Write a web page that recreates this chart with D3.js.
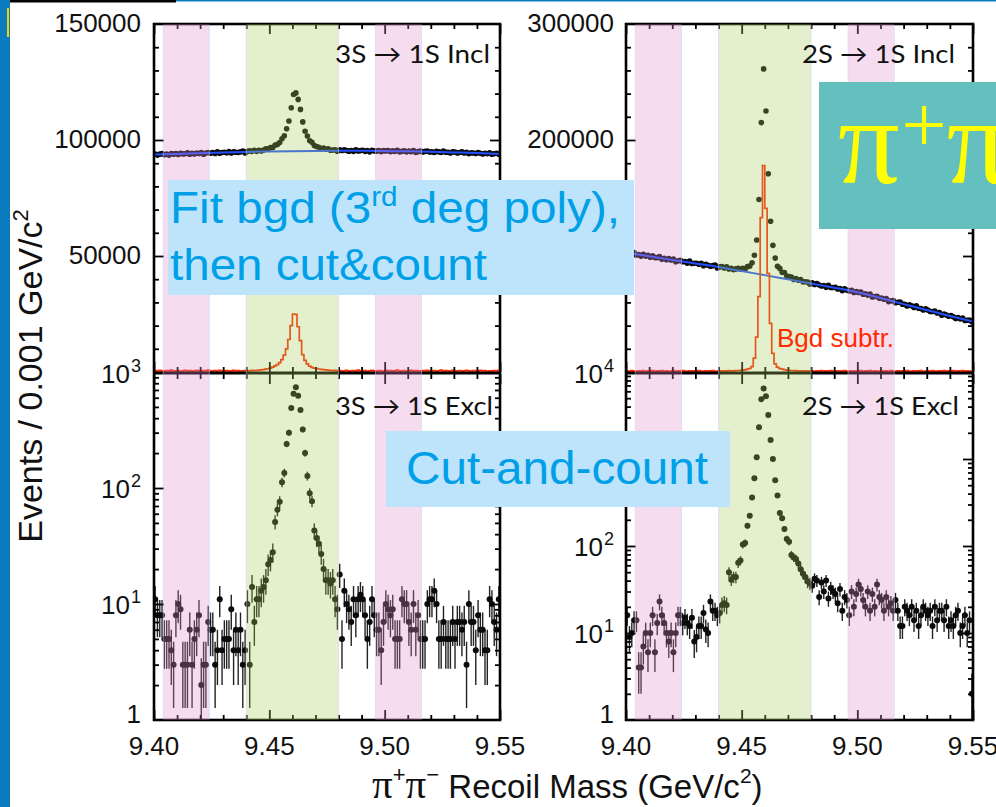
<!DOCTYPE html>
<html><head><meta charset="utf-8">
<script src="https://cdn.jsdelivr.net/npm/d3@7"></script>
<style>body{margin:0;background:#fff}svg{display:block}</style>
</head><body>
<svg id="c" width="996" height="807"></svg>
<script>
// ---------- data ----------
const binStart = 9.400, binWidth = 0.001, nBins = 150;
const xMajor = [9.40, 9.45, 9.50, 9.55];
const xMajorLabels = ["9.40", "9.45", "9.50", "9.55"];
const fitKnotX = [9.40,9.41,9.42,9.43,9.44,9.45,9.46,9.47,9.48,9.49,9.50,9.51,9.52,9.53,9.54,9.55];

const incl3S = [93900,93500,93900,94200,93600,93900,93500,94200,93900,94200,
 93800,94300,94000,94100,94500,93900,94300,94000,94400,94200,
 94600,93900,94400,94600,94300,94600,94200,94900,94300,94600,
 94700,94500,95000,94400,94900,94700,94600,94900,95200,94400,
 95100,95300,95100,95600,95100,95600,95300,95700,96200,96100,
 96700,96800,97800,98100,98900,100500,101800,104800,108200,113900,
 119600,120300,117500,113200,107800,103800,101700,99700,99000,97600,
 97200,96900,96200,96500,96000,96200,95600,95700,95800,95200,
 95800,95500,95800,95500,95200,95500,95100,95800,95300,95400,
 95600,95100,95400,94900,95600,95300,95200,95500,95000,95400,
 95300,95500,95000,95300,95100,95600,94900,95100,95300,94900,
 95200,95000,95400,94600,95000,95200,94800,95100,95200,94800,
 94900,94600,95100,94900,94600,95200,94700,94700,94400,94900,
 94800,94400,94600,94900,94400,94700,94100,94500,94400,94200,
 94600,94300,94000,94300,94100,94500,93900,94100,94300,93900];
const fit3S = [93700,94000,94300,94600,94850,95050,95200,95300,95350,95350,95250,95100,94900,94650,94350,94000];
const sub3S = [600,400,700,500,300,600,500,800,400,500,
 600,300,500,700,400,600,500,300,700,500,
 400,600,500,800,300,500,600,400,700,500,
 300,600,500,400,700,500,600,300,500,600,
 600,500,700,600,700,800,900,1000,1200,1400,
 1700,2100,2600,3200,4000,5300,7300,10000,14000,20000,
 25000,24800,19500,13500,7500,5000,3500,2500,2000,1700,
 1500,1300,1100,1000,900,800,700,600,700,500,
 600,400,500,700,300,500,600,400,800,500,
 400,600,300,500,700,500,400,600,500,300,
 700,500,600,400,500,800,400,500,600,300,
 500,700,400,600,500,300,600,500,700,400,
 500,600,300,500,800,400,600,500,400,700,
 300,500,600,400,500,700,500,300,600,500,
 400,700,500,600,300,500,400,600,500,700];

const incl2S = [103400,101600,102500,103000,100900,101200,99700,101400,99900,100500,
 98900,100100,98600,98600,99500,97100,98000,96800,97700,96500,
 97400,95000,95900,96200,95000,95300,93800,95600,93500,93800,
 93800,92900,93800,91700,92900,92000,91100,91700,92300,89600,
 90600,90900,89700,90600,88900,89500,88200,88900,89400,88600,
 89300,88800,90800,91300,94100,100700,113800,148700,215000,261300,
 225000,170900,130000,109200,98200,91100,89300,86000,85800,82800,
 82300,81800,79800,80600,79100,79700,77700,77800,77600,75700,
 77000,75500,76300,75000,74100,74600,73100,74800,72900,72900,
 73100,71500,72000,70100,71800,70600,69900,70400,68500,69300,
 68600,69000,67000,67400,66300,67300,64700,65100,65200,63500,
 63800,62700,63400,60700,61400,61500,59800,60100,60200,58500,
 58300,56900,57900,57100,55700,57000,55000,54800,53400,54400,
 53500,52100,52200,52600,50900,51200,48900,49900,49100,48000,
 48700,47600,46200,46900,45800,46500,44500,44600,44700,43300];
const fit2S = [103000,99700,96600,93600,90600,87000,83500,79900,76300,72700,68800,63800,58500,53500,48300,43400];
const sub2S = [900,600,1200,800,500,1000,700,1300,600,900,
 800,1100,500,900,700,1200,600,1000,800,500,
 1100,700,900,600,1300,800,500,1000,700,900,
 600,1200,800,500,1000,900,700,1100,600,800,
 900,700,1000,800,1100,900,1000,1200,1300,1400,
 1600,1900,2500,3000,4600,12000,30000,65000,133000,178000,
 141000,85000,42000,16000,7000,4200,3000,2400,2000,1700,
 1500,1300,1200,1100,1000,900,1000,800,900,700,
 1000,600,900,800,1200,500,900,700,1100,800,
 600,1000,900,500,1200,800,700,1000,600,900,
 800,1100,500,900,700,1200,600,1000,800,500,
 1100,700,900,600,1300,800,500,1000,700,900,
 600,1200,800,500,1000,900,700,1100,600,800,
 900,600,1200,800,500,1000,700,1300,600,900,
 800,1100,500,900,700,1200,600,1000,800,500];

const excl3S = [11,8,8,8,5,5,5,4,3,8,
 10,9,3,3,3,6,3,5,6,8,
 2,3,3,7,6,6,3,4,11,4,
 5,5,5,9,4,6,4,6,3,4,
 10,3,14,7,11,11,13,14,16,22,
 24,28,51,65,76,112,135,240,300,490,
 650,740,625,470,320,200,127,90,77,43,
 37,33,27,20,16,16,15,16,11,9,
 18,5,13,10,9,7,11,8,11,12,
 11,8,5,7,11,8,6,6,4,7,
 10,9,8,9,5,5,5,11,10,10,
 7,6,10,6,8,5,5,5,10,11,
 11,13,10,5,5,7,5,5,5,7,
 5,7,7,6,7,3,10,7,7,4,
 8,6,6,4,4,11,10,7,6,11];
const excl2S = [16,9,10,14,14,4,4,7,10,6,
 10,16,6,13,23,16,13,10,8,10,
 6,10,16,16,13,15,13,12,15,8,
 9,12,12,17,11,10,23,18,18,16,
 17,21,22,21,50,41,44,44,64,68,
 104,108,171,223,360,600,1045,2310,4870,6470,
 5270,3200,1650,1000,570,380,240,209,157,120,
 112,79,74,71,63,54,48,44,39,37,
 35,42,40,26,38,30,40,25,33,30,
 28,22,32,18,26,24,16,30,20,28,
 36,32,24,20,30,18,28,20,36,26,
 24,18,26,20,22,18,24,18,12,12,
 20,18,16,20,14,18,12,16,20,18,
 16,18,12,20,14,18,18,14,20,12,
 14,12,16,18,10,12,16,10,14,2];

const bandRanges = [[9.404, 9.424], [9.440, 9.480], [9.496, 9.516]];
const bandKinds = ["side", "signal", "side"];

// ---------- layout ----------
const svg = d3.select("#c");
const yTop = 24, yMid = 372, yBot = 720;
const binCenters = d3.range(nBins).map(i => binStart + binWidth * (i + 0.5));
const xMinor = d3.range(16).map(i => 9.40 + 0.01 * i);
const SANS = "'Liberation Sans', Arial, Helvetica, sans-serif";
const SERIF = "'Liberation Serif', 'Times New Roman', serif";

// (labels that the reference shows; those hidden under the note boxes are omitted)
const columns = [
  {x0: 154, x1: 500, incl: incl3S, fit: fit3S, sub: sub3S, excl: excl3S,
   linMax: 150000, linMajor: [50000, 100000, 150000], linStep: 10000,
   linLabels: [[150000, "150000"], [100000, "100000"], [50000, "50000"]],
   midLabel: ["10", "3"], logMax: 1000,
   logLabels: [[100, "10", "2"], [10, "10", "1"], [1, "1", null]],
   tInc: "3S \u2192 1S Incl", tExc: "3S \u2192 1S Excl", tIncLen: 155, tExcLen: 158, tX: 335, labGap: 13, id: "L"},
  {x0: 626, x1: 973, incl: incl2S, fit: fit2S, sub: sub2S, excl: excl2S,
   linMax: 300000, linMajor: [100000, 200000, 300000], linStep: 20000,
   linLabels: [[300000, "300000"], [200000, "200000"]],
   midLabel: ["10", "4"], logMax: 10000,
   logLabels: [[100, "10", "2"], [10, "10", "1"], [1, "1", null]],
   tInc: "2S \u2192 1S Incl", tExc: "2S \u2192 1S Excl", tIncLen: 153, tExcLen: 157, tX: 802, labGap: 12, id: "R"}
];

const defs = svg.append("defs");

function ticks(g, axisFn, scale, values, size, tr) {
  g.append("g").attr("transform", tr)
    .call(axisFn(scale).tickValues(values).tickSize(size).tickFormat(""))
    .call(s => { s.select(".domain").remove();
      s.selectAll("line").attr("stroke", "#000").attr("stroke-width", 1.8); });
}

columns.forEach(c => {
  const x = d3.scaleLinear().domain([9.40, 9.55]).range([c.x0, c.x1]);
  const yL = d3.scaleLinear().domain([0, c.linMax]).range([yMid, yTop]);
  const yG = d3.scaleLog().domain([1, c.logMax]).range([yBot, yMid]);
  const g = svg.append("g");

  defs.append("clipPath").attr("id", "top" + c.id).append("rect")
    .attr("x", c.x0).attr("y", yTop).attr("width", c.x1 - c.x0).attr("height", yMid - yTop);
  defs.append("clipPath").attr("id", "bot" + c.id).append("rect")
    .attr("x", c.x0).attr("y", yMid).attr("width", c.x1 - c.x0).attr("height", yBot - yMid);

  // top panel: inclusive data
  const gt = g.append("g").attr("clip-path", `url(#top${c.id})`);
  gt.selectAll("circle").data(c.incl).join("circle")
    .attr("cx", (d, i) => x(binCenters[i])).attr("cy", d => yL(d)).attr("r", 2.8).attr("fill", "#0b0b0b");
  gt.append("path").datum(c.fit)
    .attr("d", d3.line().x((d, i) => x(fitKnotX[i])).y(d => yL(d)).curve(d3.curveMonotoneX))
    .attr("fill", "none").attr("stroke", "#2250ff").attr("stroke-width", 2);
  gt.append("path").datum(c.sub)
    .attr("d", d3.line().x((d, i) => x(binCenters[i])).y(d => yL(d)).curve(d3.curveStep))
    .attr("fill", "none").attr("stroke", "#ff2600").attr("stroke-width", 1.7);

  // bottom panel: exclusive data
  const gb = g.append("g").attr("clip-path", `url(#bot${c.id})`);
  gb.selectAll("line.err").data(c.excl).join("line").attr("class", "err")
    .attr("x1", (d, i) => x(binCenters[i])).attr("x2", (d, i) => x(binCenters[i]))
    .attr("y1", d => yG(Math.max(1, d - Math.sqrt(d)))).attr("y2", d => yG(d + Math.sqrt(d)))
    .attr("stroke", "#222").attr("stroke-width", 1.4);
  gb.selectAll("circle").data(c.excl).join("circle")
    .attr("cx", (d, i) => x(binCenters[i])).attr("cy", d => yG(d)).attr("r", 3).attr("fill", "#0b0b0b");

  // frame
  g.append("rect").attr("x", c.x0).attr("y", yTop).attr("width", c.x1 - c.x0).attr("height", yBot - yTop)
    .attr("fill", "none").attr("stroke", "#000").attr("stroke-width", 2.6);
  g.append("line").attr("x1", c.x0).attr("x2", c.x1).attr("y1", yMid + 1).attr("y2", yMid + 1)
    .attr("stroke", "#000").attr("stroke-width", 3);

  // x ticks
  const xMin = xMinor.filter(v => !xMajor.some(m => Math.abs(m - v) < 1e-6));
  [[d3.axisTop, yTop], [d3.axisBottom, yMid], [d3.axisTop, yMid + 2], [d3.axisBottom, yBot]].forEach(([fn, yy]) => {
    ticks(g, fn, x, xMin, -5, `translate(0,${yy})`);
    ticks(g, fn, x, xMajor, -10, `translate(0,${yy})`);
  });
  // y ticks (linear)
  const linMinor = d3.range(0, c.linMax + 1, c.linStep).filter(v => !c.linMajor.includes(v) && v > 0);
  [[d3.axisLeft, c.x0], [d3.axisRight, c.x1]].forEach(([fn, xx]) => {
    ticks(g, fn, yL, linMinor, -5, `translate(${xx},0)`);
    ticks(g, fn, yL, c.linMajor.filter(v => v < c.linMax), -10, `translate(${xx},0)`);
  });
  // y ticks (log)
  const decs = d3.range(0, Math.round(Math.log10(c.logMax)));
  const logMajor = decs.map(k => Math.pow(10, k)).filter(v => v > 1);
  const logMinor = [];
  decs.forEach(k => { for (let m = 2; m <= 9; m++) logMinor.push(m * Math.pow(10, k)); });
  [[d3.axisLeft, c.x0], [d3.axisRight, c.x1]].forEach(([fn, xx]) => {
    ticks(g, fn, yG, logMinor, -5, `translate(${xx},0)`);
    ticks(g, fn, yG, logMajor, -10, `translate(${xx},0)`);
  });

  // bands (semi-transparent, over data and frame)
  bandRanges.forEach((b, k) => {
    g.append("rect").attr("x", x(b[0])).attr("y", yTop).attr("width", x(b[1]) - x(b[0])).attr("height", yBot - yTop)
      .attr("fill", bandKinds[k] === "signal" ? "rgb(165,205,88)" : "rgb(222,138,202)").attr("opacity", 0.3);
    [b[0], b[1]].forEach(v => g.append("line").attr("x1", x(v)).attr("x2", x(v)).attr("y1", yTop + 1).attr("y2", yBot - 1)
      .attr("stroke", "#c8d4fa").attr("stroke-width", 1).attr("opacity", 0.5));
  });

  // tick labels
  const lx = c.x0 - c.labGap;
  c.linLabels.forEach(([v, s]) => {
    g.append("text").attr("x", lx).attr("y", yL(v) + 8).attr("text-anchor", "end")
      .attr("font-family", SANS).attr("font-size", 26).attr("fill", "#111").text(s);
  });
  const sup = (base, e, yy) => {
    const tx = g.append("text").attr("x", lx).attr("y", yy).attr("text-anchor", "end")
      .attr("font-family", SANS).attr("font-size", 26).attr("fill", "#111");
    tx.append("tspan").text(base);
    if (e) tx.append("tspan").attr("dx", 1).attr("dy", -11).attr("font-size", 18).text(e);
  };
  sup(c.midLabel[0], c.midLabel[1], yMid + 11);
  c.logLabels.forEach(([v, b, e]) => sup(b, e, v === 1 ? yG(v) + 3 : yG(v) + 10));
  xMajor.forEach((v, i) => {
    g.append("text").attr("x", x(v)).attr("y", 755).attr("text-anchor", "middle")
      .attr("font-family", SANS).attr("font-size", 26).attr("fill", "#111").text(xMajorLabels[i]);
  });

  // panel titles
  [[c.tInc, 63, c.tIncLen], [c.tExc, 415, c.tExcLen]].forEach(([t, yy, len]) => {
    g.append("text").attr("x", c.tX).attr("y", yy).attr("font-family", "Lato, 'Open Sans', 'DejaVu Sans', sans-serif")
      .attr("font-size", 25).attr("fill", "#111").attr("textLength", len).attr("lengthAdjust", "spacingAndGlyphs").text(t);
  });
});

// red annotation
svg.append("text").attr("x", 777).attr("y", 347).attr("font-family", SANS).attr("font-size", 26)
  .attr("fill", "#ff2a00").text("Bgd subtr.");

// axis titles
const yt = svg.append("text").attr("transform", "translate(42,376) rotate(-90)").attr("text-anchor", "middle")
  .attr("font-family", SANS).attr("font-size", 34).attr("fill", "#111");
yt.append("tspan").text("Events / 0.001 GeV/c");
yt.append("tspan").attr("dy", -14).attr("font-size", 22).text("2");

const xt = svg.append("text").attr("x", 372).attr("y", 798).attr("font-size", 33).attr("fill", "#111");
xt.append("tspan").attr("font-family", SERIF).attr("font-size", 41).text("\u03c0");
xt.append("tspan").attr("font-family", SANS).attr("font-size", 22).attr("dy", -16).text("+");
xt.append("tspan").attr("font-family", SERIF).attr("font-size", 41).attr("dy", 16).text("\u03c0");
xt.append("tspan").attr("font-family", SANS).attr("font-size", 22).attr("dy", -16).text("\u2212");
xt.append("tspan").attr("font-family", SANS).attr("dy", 16).text(" Recoil Mass (GeV/c");
xt.append("tspan").attr("font-family", SANS).attr("font-size", 21).attr("dy", -15).text("2");
xt.append("tspan").attr("font-family", SANS).attr("dy", 15).text(")");

// overlay boxes
svg.append("rect").attr("x", 168).attr("y", 180).attr("width", 466).attr("height", 115).attr("fill", "#bee4fb");
const t1 = svg.append("text").attr("x", 170).attr("y", 223).attr("font-family", SANS).attr("font-size", 45)
  .attr("fill", "#00a0e8").attr("textLength", 450).attr("lengthAdjust", "spacingAndGlyphs");
t1.append("tspan").text("Fit bgd (3");
t1.append("tspan").attr("dy", -17).attr("font-size", 28).text("rd");
t1.append("tspan").attr("dy", 17).text(" deg poly),");
svg.append("text").attr("x", 170).attr("y", 280).attr("font-family", SANS).attr("font-size", 45)
  .attr("fill", "#00a0e8").attr("textLength", 317).attr("lengthAdjust", "spacingAndGlyphs").text("then cut&count");

svg.append("rect").attr("x", 386).attr("y", 431).attr("width", 344).attr("height", 76).attr("fill", "#bee4fb");
svg.append("text").attr("x", 406).attr("y", 484).attr("font-family", SANS).attr("font-size", 47)
  .attr("fill", "#00a0e8").attr("textLength", 302).attr("lengthAdjust", "spacingAndGlyphs").text("Cut-and-count");

svg.append("rect").attr("x", 819).attr("y", 82).attr("width", 177).attr("height", 147).attr("fill", "#64bfbf");
const pp = svg.append("text").attr("x", 838).attr("y", 183).attr("font-family", SERIF).attr("font-size", 122).attr("fill", "#ffff00");
pp.append("tspan").text("\u03c0");
pp.append("tspan").attr("font-size", 80).attr("dx", 2).attr("dy", -31).text("+");
pp.append("tspan").attr("dy", 31).text("\u03c0");
pp.append("tspan").attr("font-size", 80).attr("dy", -31).text("\u2212");

// slide decorations
svg.append("rect").attr("x", 0).attr("y", 0).attr("width", 10).attr("height", 807).attr("fill", "#0a7bbf");
svg.append("rect").attr("x", 7).attr("y", 8).attr("width", 2).attr("height", 29).attr("fill", "#f2d200");
svg.append("rect").attr("x", 10).attr("y", 0).attr("width", 166).attr("height", 2.5).attr("fill", "#000");
svg.append("rect").attr("x", 176).attr("y", 0).attr("width", 820).attr("height", 1.5).attr("fill", "#0a7bbf");
</script>
</body></html>
